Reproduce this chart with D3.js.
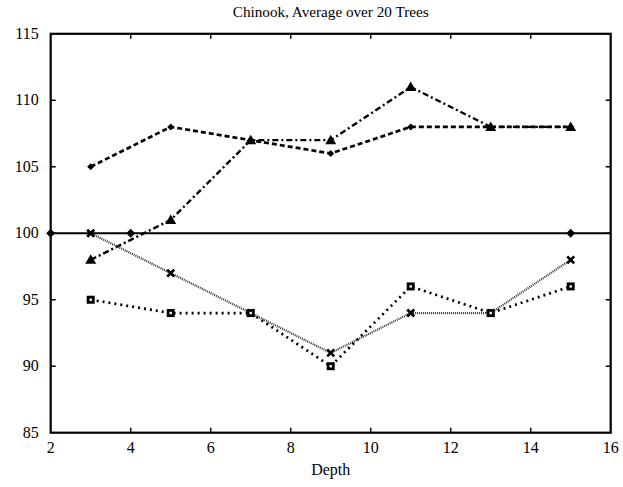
<!DOCTYPE html>
<html><head><meta charset="utf-8">
<script src="https://cdn.jsdelivr.net/npm/d3@7"></script>
<style>body{margin:0;background:#fff}text{font-family:"Liberation Serif","Times New Roman",serif;fill:#000}</style>
</head><body><svg id="c" width="623" height="487"></svg>
<script>
const title = "Chinook, Average over 20 Trees";
const xLabel = "Depth";
const xTicks = [2,4,6,8,10,12,14,16];
const yTicks = [85,90,95,100,105,110,115];
const depths = [3,5,7,9,11,13,15];
const baseX = [2,4,15];
const baseY = [100,100,100];
const seriesDiamond = [105,108,107,106,108,108,108];
const seriesTriangle = [98,101,107,107,111,108,108];
const seriesCross = [100,97,94,91,94,94,98];
const seriesSquare = [95,94,94,90,96,94,96];

const svg = d3.select("#c");
const L=50.7, R=610.7, T=33.8, B=432.7;
const x = d3.scaleLinear().domain([2,16]).range([L,R]);
const y = d3.scaleLinear().domain([85,115]).range([B,T]);

svg.append("text").attr("x",(L+R)/2).attr("y",17).attr("text-anchor","middle").attr("font-size",15.2).text(title);

const g = svg.append("g");
xTicks.forEach(t=>{
  if(t>2&&t<16){
    g.append("line").attr("x1",x(t)).attr("x2",x(t)).attr("y1",B).attr("y2",B-5).attr("stroke","#000").attr("stroke-width",1.5);
    g.append("line").attr("x1",x(t)).attr("x2",x(t)).attr("y1",T).attr("y2",T+5).attr("stroke","#000").attr("stroke-width",1.5);
  }
  g.append("text").attr("x",x(t)).attr("y",B+20).attr("text-anchor","middle").attr("font-size",16).text(t);
});
yTicks.forEach(t=>{
  if(t>85&&t<115){
    g.append("line").attr("x1",L).attr("x2",L+5).attr("y1",y(t)).attr("y2",y(t)).attr("stroke","#000").attr("stroke-width",1.5);
    g.append("line").attr("x1",R).attr("x2",R-5).attr("y1",y(t)).attr("y2",y(t)).attr("stroke","#000").attr("stroke-width",1.5);
  }
  g.append("text").attr("x",L-12).attr("y",y(t)+5).attr("text-anchor","end").attr("font-size",16).text(t);
});
svg.append("text").attr("x",(L+R)/2).attr("y",475).attr("text-anchor","middle").attr("font-size",16).text(xLabel);

svg.append("line").attr("x1",x(2)).attr("x2",x(16)).attr("y1",y(100)).attr("y2",y(100)).attr("stroke","#000").attr("stroke-width",2.2);
const line = d3.line().x(d=>x(d[0])).y(d=>y(d[1]));
const pts = arr=>depths.map((d,i)=>[d,arr[i]]);

function drawSeries(arr, dash, color, width, marker){
  svg.append("path").attr("d",line(pts(arr))).attr("fill","none").attr("stroke",color).attr("stroke-width",width).attr("stroke-dasharray",dash);
  pts(arr).forEach(p=>marker(x(p[0]),y(p[1])));
}
const diamond = (s)=> (cx,cy)=>svg.append("path").attr("d",`M${cx},${cy-s}L${cx+s},${cy}L${cx},${cy+s}L${cx-s},${cy}Z`).attr("fill","#000");

baseX.forEach((d,i)=>diamond(4.5)(x(d),y(baseY[i])));

drawSeries(seriesDiamond,"5,3","#000",2.7,diamond(3.5));
drawSeries(seriesTriangle,"6,3,2,3","#000",2.4,(cx,cy)=>svg.append("path").attr("d",`M${cx},${cy-5.5}L${cx+5.5},${cy+4}L${cx-5.5},${cy+4}Z`).attr("fill","#000"));
drawSeries(seriesCross,"1,1","#333",2.2,(cx,cy)=>svg.append("path").attr("d",`M${cx-3.5},${cy-3.5}L${cx+3.5},${cy+3.5}M${cx+3.5},${cy-3.5}L${cx-3.5},${cy+3.5}`).attr("stroke","#000").attr("stroke-width",2.7));
drawSeries(seriesSquare,"2,4","#000",2.7,(cx,cy)=>{
  svg.append("rect").attr("x",cx-4).attr("y",cy-4).attr("width",8).attr("height",8).attr("fill","#000");
  svg.append("rect").attr("x",cx-1.2).attr("y",cy-1.2).attr("width",2.4).attr("height",2.4).attr("fill","#fff");
});

svg.append("rect").attr("x",L).attr("y",T).attr("width",R-L).attr("height",B-T).attr("fill","none").attr("stroke","#000").attr("stroke-width",2.2);
</script></body></html>
